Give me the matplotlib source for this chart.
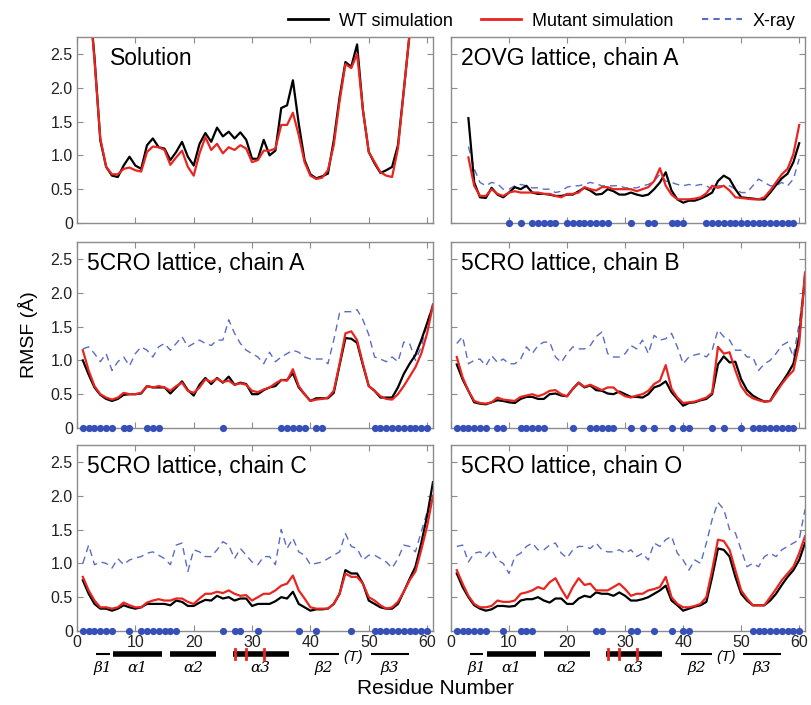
import matplotlib
matplotlib.use('Agg')
import matplotlib.pyplot as plt
import matplotlib.transforms as mtransforms
import numpy as np
from matplotlib.lines import Line2D

plt.rcParams['font.family'] = ['Liberation Sans', 'DejaVu Sans']

# ---- data (RMSF in Angstrom, per residue) ----
sol_wt = [4.2, 3.45, 2.45, 1.22, 0.83, 0.70, 0.68, 0.85, 0.98, 0.85,
          0.80, 1.15, 1.25, 1.12, 1.10, 0.93, 1.05, 1.20, 0.98, 0.85,
          1.17, 1.33, 1.20, 1.41, 1.28, 1.35, 1.25, 1.34, 1.23, 0.95,
          0.95, 1.23, 1.00, 1.07, 1.70, 1.74, 2.11, 1.47, 0.93, 0.72,
          0.66, 0.69, 0.73, 1.22, 1.86, 2.38, 2.31, 2.64, 1.67, 1.05,
          0.88, 0.74, 0.78, 0.83, 1.15, 1.96, 2.80, 3.6, 4.3, 5.0, 5.5]
sol_mut = [4.2, 3.45, 2.40, 1.25, 0.83, 0.72, 0.72, 0.80, 0.82, 0.78,
           0.76, 1.05, 1.13, 1.12, 1.08, 0.86, 0.97, 1.07, 0.83, 0.70,
           1.03, 1.27, 1.08, 1.17, 1.03, 1.12, 1.08, 1.15, 1.10, 0.90,
           0.93, 1.07, 1.07, 1.10, 1.45, 1.45, 1.63, 1.30, 0.90, 0.70,
           0.65, 0.67, 0.78, 1.15, 1.80, 2.35, 2.29, 2.50, 1.67, 1.05,
           0.90, 0.75, 0.70, 0.68, 1.10, 1.95, 2.80, 3.6, 4.3, 5.0, 5.5]

# 2OVG lattice chain A covers residues 3-60
ovg_wt = [1.55, 0.60, 0.38, 0.37, 0.52, 0.42, 0.38, 0.45,
          0.53, 0.50, 0.55, 0.45, 0.43, 0.43, 0.42, 0.40, 0.40, 0.42,
          0.42, 0.47, 0.52, 0.48, 0.42, 0.43, 0.50, 0.47, 0.42, 0.42,
          0.45, 0.42, 0.40, 0.42, 0.50, 0.60, 0.75, 0.48, 0.35, 0.30,
          0.33, 0.33, 0.36, 0.40, 0.45, 0.62, 0.70, 0.65, 0.50, 0.38,
          0.37, 0.36, 0.35, 0.35, 0.45, 0.56, 0.66, 0.73, 0.90, 1.18]
ovg_mut = [0.97, 0.55, 0.40, 0.40, 0.50, 0.43, 0.40, 0.45,
           0.47, 0.45, 0.45, 0.45, 0.45, 0.43, 0.43, 0.40, 0.38, 0.43,
           0.43, 0.45, 0.53, 0.50, 0.48, 0.53, 0.53, 0.50, 0.50, 0.50,
           0.50, 0.47, 0.50, 0.53, 0.62, 0.81, 0.55, 0.42, 0.35, 0.35,
           0.35, 0.36, 0.38, 0.44, 0.55, 0.52, 0.55, 0.48, 0.38, 0.37,
           0.36, 0.35, 0.35, 0.38, 0.48, 0.60, 0.72, 0.80, 1.02, 1.45]
ovg_xray = [1.13, 0.80, 0.60, 0.55, 0.60, 0.58, 0.50, 0.50,
            0.55, 0.57, 0.55, 0.52, 0.52, 0.50, 0.50, 0.45, 0.47, 0.53,
            0.55, 0.55, 0.57, 0.60, 0.58, 0.55, 0.55, 0.55, 0.55, 0.52,
            0.52, 0.52, 0.55, 0.57, 0.62, 0.72, 0.62, 0.60, 0.57, 0.55,
            0.57, 0.55, 0.57, 0.55, 0.50, 0.55, 0.55, 0.55, 0.50, 0.45,
            0.45, 0.55, 0.65, 0.60, 0.55, 0.55, 0.60, 0.55, 0.65, 0.95]
ovg_contacts = [10, 12, 14, 15, 16, 17, 18, 20, 21, 22, 23, 24, 25, 26, 27,
                31, 34, 35, 38, 39, 40] + list(range(44, 60))

a_wt = [1.00, 0.79, 0.60, 0.49, 0.43, 0.40, 0.43, 0.49, 0.50, 0.50,
        0.51, 0.62, 0.60, 0.60, 0.60, 0.51, 0.60, 0.69, 0.56, 0.48,
        0.64, 0.74, 0.65, 0.74, 0.67, 0.76, 0.64, 0.67, 0.65, 0.50,
        0.50, 0.56, 0.60, 0.62, 0.71, 0.71, 0.81, 0.60, 0.50, 0.40,
        0.44, 0.44, 0.44, 0.52, 0.93, 1.33, 1.32, 1.26, 0.93, 0.62,
        0.55, 0.45, 0.45, 0.45, 0.60, 0.80, 0.95, 1.08, 1.30, 1.55, 1.80]
a_mut = [1.15, 0.85, 0.62, 0.50, 0.45, 0.42, 0.45, 0.52, 0.50, 0.50,
         0.52, 0.62, 0.60, 0.62, 0.60, 0.55, 0.62, 0.67, 0.55, 0.52,
         0.60, 0.72, 0.68, 0.73, 0.68, 0.70, 0.64, 0.66, 0.64, 0.55,
         0.53, 0.57, 0.60, 0.66, 0.71, 0.70, 0.87, 0.62, 0.50, 0.40,
         0.42, 0.43, 0.45, 0.55, 0.95, 1.40, 1.43, 1.30, 0.95, 0.62,
         0.55, 0.47, 0.43, 0.42, 0.50, 0.62, 0.76, 0.90, 1.10, 1.40, 1.82]
a_xray = [1.17, 1.20, 1.10, 0.98, 1.10, 0.85, 0.98, 1.05, 0.92, 1.10,
          1.20, 1.15, 1.05, 1.20, 1.25, 1.15, 1.25, 1.35, 1.20, 1.25,
          1.30, 1.25, 1.22, 1.30, 1.30, 1.60, 1.40, 1.25, 1.15, 1.10,
          1.05, 0.95, 1.12, 0.98, 1.05, 1.10, 1.15, 1.12, 1.05, 1.02,
          1.02, 1.02, 0.95, 1.30, 1.70, 1.72, 1.72, 1.75, 1.60, 1.38,
          1.05, 1.02, 0.98, 1.05, 0.98, 1.27, 1.25, 1.00, 1.20, 1.55, 1.85]
a_contacts = [1, 2, 3, 4, 5, 6, 8, 9, 12, 13, 14, 25, 35, 36, 37, 38, 39,
              41, 42] + list(range(51, 61))

b_wt = [0.94, 0.72, 0.55, 0.38, 0.36, 0.35, 0.38, 0.41, 0.40, 0.38,
        0.37, 0.43, 0.46, 0.46, 0.43, 0.43, 0.50, 0.51, 0.48, 0.47,
        0.58, 0.67, 0.60, 0.63, 0.56, 0.55, 0.51, 0.50, 0.54, 0.50,
        0.46, 0.46, 0.45, 0.50, 0.60, 0.63, 0.69, 0.53, 0.43, 0.33,
        0.37, 0.38, 0.41, 0.43, 0.50, 0.94, 1.06, 0.97, 0.98, 0.72,
        0.56, 0.48, 0.43, 0.39, 0.40, 0.55, 0.67, 0.80, 0.95, 1.35, 2.25]
b_mut = [1.05, 0.75, 0.55, 0.40, 0.37, 0.36, 0.38, 0.45, 0.42, 0.41,
         0.40, 0.46, 0.48, 0.50, 0.47, 0.50, 0.55, 0.56, 0.50, 0.47,
         0.58, 0.67, 0.61, 0.64, 0.60, 0.56, 0.60, 0.60, 0.52, 0.47,
         0.45, 0.48, 0.50, 0.55, 0.65, 0.70, 0.93, 0.58, 0.45, 0.37,
         0.38, 0.39, 0.42, 0.45, 0.52, 1.20, 1.10, 1.12, 0.85, 0.62,
         0.50, 0.44, 0.41, 0.39, 0.40, 0.52, 0.65, 0.76, 0.85, 1.25, 2.30]
b_xray = [1.25, 1.35, 0.95, 1.00, 1.02, 0.92, 1.07, 0.97, 1.02, 0.95,
          0.95, 1.02, 1.20, 1.10, 1.22, 1.27, 1.27, 1.05, 0.97, 1.10,
          1.20, 1.17, 1.17, 1.22, 1.35, 1.42, 1.10, 1.05, 1.05, 1.10,
          1.22, 1.17, 1.30, 1.10, 1.37, 1.30, 1.32, 1.40, 1.20, 0.95,
          1.05, 1.08, 1.10, 1.05, 1.15, 1.45, 1.35, 1.30, 1.15, 1.15,
          1.05, 1.05, 0.85, 0.95, 1.00, 1.10, 1.22, 1.27, 1.05, 1.55, 2.20]
b_contacts = [1, 2, 3, 4, 5, 6, 8, 9, 12, 13, 14, 15, 16, 21, 24, 25, 26,
              27, 28, 31, 33, 35, 38, 40, 41, 45, 47, 50] + list(range(52, 60))

c_wt = [0.75, 0.55, 0.40, 0.33, 0.33, 0.30, 0.33, 0.38, 0.35, 0.33,
        0.35, 0.40, 0.40, 0.40, 0.40, 0.38, 0.45, 0.43, 0.37, 0.37,
        0.42, 0.46, 0.45, 0.52, 0.48, 0.50, 0.45, 0.48, 0.48, 0.37,
        0.40, 0.40, 0.40, 0.44, 0.50, 0.48, 0.58, 0.40, 0.35, 0.30,
        0.32, 0.32, 0.33, 0.40, 0.55, 0.90, 0.85, 0.85, 0.70, 0.45,
        0.40, 0.35, 0.33, 0.33, 0.40, 0.58, 0.77, 0.95, 1.30, 1.70, 2.20]
c_mut = [0.80, 0.60, 0.45, 0.35, 0.35, 0.33, 0.35, 0.42, 0.38, 0.35,
         0.35, 0.42, 0.45, 0.47, 0.45, 0.45, 0.48, 0.48, 0.43, 0.40,
         0.48, 0.55, 0.55, 0.58, 0.56, 0.60, 0.55, 0.52, 0.53, 0.45,
         0.50, 0.55, 0.55, 0.60, 0.67, 0.70, 0.82, 0.60, 0.48, 0.35,
         0.33, 0.33, 0.33, 0.40, 0.55, 0.85, 0.80, 0.80, 0.70, 0.50,
         0.45, 0.38, 0.33, 0.35, 0.43, 0.58, 0.75, 0.88, 1.20, 1.55, 2.00]
c_xray = [1.00, 1.27, 0.98, 1.02, 1.00, 0.93, 1.07, 0.98, 1.05, 1.08,
          1.10, 1.15, 1.17, 1.12, 1.07, 0.98, 1.27, 1.30, 0.88, 1.20,
          1.17, 1.10, 1.10, 1.20, 1.32, 1.27, 1.07, 1.22, 1.12, 1.02,
          0.98, 1.10, 1.10, 0.98, 1.50, 1.22, 1.37, 1.17, 1.12, 0.98,
          1.00, 1.02, 1.07, 1.12, 1.17, 1.44, 1.25, 1.22, 1.05, 1.12,
          1.12, 1.07, 1.02, 0.93, 1.07, 1.27, 1.25, 1.17, 1.47, 1.76, 1.96]
c_contacts = [1, 2, 3, 4, 5, 6, 9, 11, 12, 13, 14, 15, 16, 17, 25, 27, 28,
              31, 38, 41, 47] + list(range(51, 61))

o_wt = [0.85, 0.65, 0.50, 0.38, 0.33, 0.30, 0.32, 0.37, 0.37, 0.36,
        0.37, 0.45, 0.47, 0.47, 0.50, 0.45, 0.42, 0.48, 0.48, 0.40,
        0.40, 0.48, 0.52, 0.50, 0.57, 0.55, 0.55, 0.52, 0.57, 0.52,
        0.45, 0.45, 0.47, 0.50, 0.55, 0.60, 0.67, 0.45, 0.38, 0.30,
        0.33, 0.36, 0.38, 0.43, 0.80, 1.22, 1.20, 1.10, 0.80, 0.55,
        0.45, 0.38, 0.38, 0.38, 0.45, 0.55, 0.68, 0.80, 0.90, 1.05, 1.30]
o_mut = [0.90, 0.70, 0.52, 0.40, 0.35, 0.35, 0.37, 0.45, 0.43, 0.43,
         0.45, 0.55, 0.57, 0.60, 0.65, 0.62, 0.72, 0.78, 0.62, 0.48,
         0.65, 0.78, 0.68, 0.70, 0.60, 0.60, 0.60, 0.65, 0.70, 0.62,
         0.52, 0.55, 0.55, 0.60, 0.62, 0.65, 0.80, 0.50, 0.40, 0.35,
         0.35, 0.37, 0.40, 0.50, 0.90, 1.35, 1.33, 1.20, 0.90, 0.60,
         0.48, 0.38, 0.38, 0.38, 0.50, 0.62, 0.75, 0.85, 0.95, 1.15, 1.40]
o_xray = [1.25, 1.27, 1.02, 1.15, 1.17, 1.10, 1.20, 1.05, 1.00, 0.85,
          1.10, 1.15, 1.25, 1.30, 1.20, 1.20, 1.27, 1.30, 1.15, 1.08,
          1.20, 1.25, 1.25, 1.22, 1.30, 1.20, 1.17, 1.17, 1.20, 1.15,
          1.20, 1.10, 1.15, 1.05, 1.30, 1.25, 1.35, 1.40, 1.15, 1.05,
          0.90, 1.05, 1.00, 1.30, 1.65, 1.90, 1.80, 1.50, 1.45, 1.20,
          0.95, 1.00, 0.95, 1.10, 1.15, 1.10, 1.20, 1.25, 1.30, 1.35, 1.80]
o_contacts = [1, 2, 3, 4, 5, 6, 9, 12, 13, 14, 25, 26, 31, 32, 35, 38, 40,
              41] + list(range(52, 61))

# secondary structure: (label, start, end, kind)
ss_elements = [('β1', 3.2, 5.6, 'strand'), ('α1', 6.2, 14.6, 'helix'),
               ('α2', 16.0, 23.9, 'helix'), ('α3', 26.7, 36.3, 'helix'),
               ('β2', 39.7, 44.9, 'strand'), ('β3', 50.3, 56.9, 'strand')]
mutation_sites = [27, 29, 32]
turn_pos = 47.4

# ---- figure ----
fig = plt.figure(figsize=(8.12, 7.05), dpi=100)

col_x = [0.0948, 0.5554]
col_w = [0.4384, 0.436]
row_y = [0.6837, 0.3929, 0.105]
row_h = 0.2638

panels = [
    ('Solution', 1, sol_wt, sol_mut, None, None),
    ('2OVG lattice, chain A', 3, ovg_wt, ovg_mut, ovg_xray, ovg_contacts),
    ('5CRO lattice, chain A', 1, a_wt, a_mut, a_xray, a_contacts),
    ('5CRO lattice, chain B', 1, b_wt, b_mut, b_xray, b_contacts),
    ('5CRO lattice, chain C', 1, c_wt, c_mut, c_xray, c_contacts),
    ('5CRO lattice, chain O', 1, o_wt, o_mut, o_xray, o_contacts),
]

frame_col = '#8c8c8c'
red = '#e8251f'
blue_line = '#5a6cc4'
blue_dot = '#3650b8'

for i, (title, first, wt, mut, xray, contacts) in enumerate(panels):
    row, col = divmod(i, 2)
    ax = fig.add_axes([col_x[col], row_y[row], col_w[col], row_h])
    res = np.arange(first, first + len(wt))
    if xray is not None:
        ax.plot(res, xray, color=blue_line, lw=1.0, dashes=(5, 3.5))
    ax.plot(res, wt, color='black', lw=1.6)
    ax.plot(res, mut, color=red, lw=1.6)
    if contacts is not None:
        ax.plot(contacts, np.zeros(len(contacts)), 'o', color=blue_dot,
                ms=5.2, mec='none', clip_on=False, zorder=5)
    ax.set_xlim(0, 61)
    ax.set_ylim(0, 2.75)
    ax.set_xticks(range(0, 61, 10))
    ax.set_yticks([0, 0.5, 1.0, 1.5, 2.0, 2.5])
    ax.set_yticklabels(['0', '0.5', '1.0', '1.5', '2.0', '2.5'])
    ax.tick_params(direction='in', top=True, right=True, length=4,
                   width=0.8, color=frame_col, labelsize=11.5, pad=3,
                   labelcolor='#222222')
    for sp in ax.spines.values():
        sp.set_color(frame_col)
        sp.set_linewidth(1.0)
    if col == 1:
        ax.tick_params(labelleft=False)
    if row < 2:
        ax.tick_params(labelbottom=False)
    tx = 0.093 if title == 'Solution' else 0.027
    ax.text(tx, 0.85, title, transform=ax.transAxes, fontsize=16.5,
            va='baseline', ha='left')

    if row == 2:
        trans = mtransforms.blended_transform_factory(ax.transData, ax.transAxes)
        for lab, s, e, kind in ss_elements:
            lw = 4.0 if kind == 'helix' else 1.5
            ax.plot([s, e], [-0.125, -0.125], color='black', lw=lw,
                    solid_capstyle='butt', transform=trans, clip_on=False)
            ax.text((s + e) / 2, -0.2, lab, transform=trans, fontsize=11,
                    style='italic', ha='center', va='center',
                    family=['DejaVu Serif', 'DejaVu Sans'])
        for m in mutation_sites:
            ax.plot([m, m], [-0.098, -0.152], color=red, lw=2.0,
                    transform=trans, clip_on=False, zorder=6)
        ax.text(turn_pos, -0.14, '(T)', transform=trans, fontsize=11,
                style='italic', ha='center', va='center')

fig.text(0.034, 0.525, 'RMSF (Å)', rotation=90, fontsize=14,
         ha='center', va='center')
fig.text(0.536, 0.024, 'Residue Number', fontsize=15, ha='center',
         va='center')

handles = [Line2D([], [], color='black', lw=2),
           Line2D([], [], color=red, lw=2),
           Line2D([], [], color=blue_line, lw=1.5, dashes=(3, 2.5))]
fig.legend(handles, ['WT simulation', 'Mutant simulation', 'X-ray'],
           loc='upper right', bbox_to_anchor=(1.0, 1.005), ncol=3,
           frameon=False, handlelength=2.2, columnspacing=1.6,
           handletextpad=0.6,
           prop={'family': ['Liberation Sans Narrow', 'Liberation Sans'],
                 'size': 13})

fig.savefig('out.png', dpi=100)
